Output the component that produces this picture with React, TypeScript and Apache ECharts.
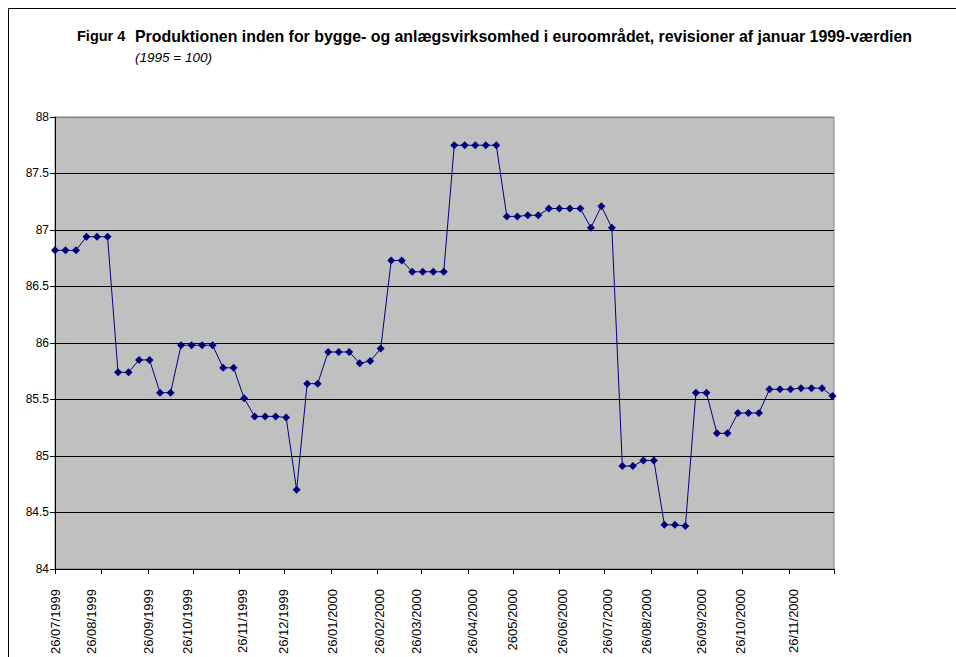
import React, { useEffect, useRef } from "react";
import * as echarts from "echarts";

const TITLE_FIG = "Figur 4";
const TITLE =
  "Produktionen inden for bygge- og anlægsvirksomhed i euroområdet, revisioner af januar 1999-værdien";
const SUBTITLE = "(1995 = 100)";

// Weekly observations starting 26/07/1999 (index value, 1995 = 100)
const values: number[] = [
  86.82, 86.82, 86.82, 86.94, 86.94, 86.94, 85.74, 85.74, 85.85, 85.85,
  85.56, 85.56, 85.98, 85.98, 85.98, 85.98, 85.78, 85.78, 85.51, 85.35,
  85.35, 85.35, 85.34, 84.7, 85.64, 85.64, 85.92, 85.92, 85.92, 85.82,
  85.84, 85.95, 86.73, 86.73, 86.63, 86.63, 86.63, 86.63, 87.75, 87.75,
  87.75, 87.75, 87.75, 87.12, 87.12, 87.13, 87.13, 87.19, 87.19, 87.19,
  87.19, 87.02, 87.21, 87.02, 84.91, 84.91, 84.96, 84.96, 84.39, 84.39,
  84.38, 85.56, 85.56, 85.2, 85.2, 85.38, 85.38, 85.38, 85.59, 85.59,
  85.59, 85.6, 85.6, 85.6, 85.53,
];
// day offset (from 26/07/1999) of each observation: one per week
const obsDays: number[] = values.map((_, i) => i * 7);

// monthly tick marks (day offsets of the 26th of each month)
const tickDays = [0, 31, 62, 92, 123, 153, 184, 215, 244, 275, 305, 336, 366, 397, 428, 458, 489, 519];
// label positions (day offsets) and texts as printed
const labelDays = [0, 24, 62, 88, 125, 152, 185, 216, 241, 278, 305, 338, 368, 394, 431, 457, 492];
const labelTexts = [
  "26/07/1999", "26/08/1999", "26/09/1999", "26/10/1999", "26/11/1999", "26/12/1999",
  "26/01/2000", "26/02/2000", "26/03/2000", "26/04/2000", "2605/2000", "26/06/2000",
  "26/07/2000", "26/08/2000", "26/09/2000", "26/10/2000", "26/11/2000",
];

const NARROW = "'Liberation Sans Narrow', 'Arial Narrow', 'Liberation Sans', Arial, sans-serif";
const REG = "'Liberation Sans', Arial, sans-serif";

export default function App() {
  const ref = useRef<HTMLDivElement>(null);
  useEffect(() => {
    if (!ref.current) return;
    const chart = echarts.init(ref.current, undefined, { renderer: "svg" });
    chart.setOption({
      animation: false,
      backgroundColor: "#ffffff",
      title: [
        {
          text: TITLE_FIG,
          left: 77,
          top: 28,
          padding: 0,
          textStyle: { fontFamily: NARROW, fontSize: 14.5, fontWeight: "bold", color: "#000" },
        },
        {
          text: TITLE,
          left: 135,
          top: 28,
          padding: 0,
          textStyle: { fontFamily: NARROW, fontSize: 15.9, fontWeight: "bold", color: "#000" },
        },
        {
          text: SUBTITLE,
          left: 135,
          top: 50,
          padding: 0,
          textStyle: { fontFamily: NARROW, fontSize: 13.5, fontWeight: "normal", fontStyle: "italic", color: "#000" },
        },
      ],
      graphic: [
        {
          type: "rect",
          shape: { x: 8.5, y: 8.5, width: 1200, height: 1200 },
          style: { fill: "none", stroke: "#000", lineWidth: 1 },
          silent: true,
        },
      ],
      grid: {
        left: 55,
        top: 117,
        width: 779,
        height: 454,
        show: true,
        backgroundColor: "#C0C0C0",
        borderColor: "#808080",
        borderWidth: 1,
      },
      xAxis: {
        type: "value",
        min: 0,
        max: 519,
        axisLine: { show: true, onZero: false, lineStyle: { color: "#000", width: 1 } },
        axisTick: { show: true, length: 5, inside: false, customValues: tickDays, lineStyle: { color: "#000" } },
        splitLine: { show: false },
        axisLabel: {
          customValues: labelDays,
          rotate: 90,
          margin: 20,
          fontFamily: REG,
          fontSize: 13,
          color: "#000",
          formatter: (v: number) => {
            let best = -1;
            let bd = 1e9;
            labelDays.forEach((d, i) => {
              const dd = Math.abs(d - v);
              if (dd < bd) {
                bd = dd;
                best = i;
              }
            });
            return bd < 0.5 ? labelTexts[best] : "";
          },
        },
      },
      yAxis: {
        type: "value",
        min: 84,
        max: 88,
        interval: 0.5,
        axisLine: { show: true, lineStyle: { color: "#000", width: 1 } },
        axisTick: { show: true, length: 5, inside: false, lineStyle: { color: "#000" } },
        splitLine: {
          show: true,
          lineStyle: {
            color: ["#000", "#000", "#000", "#000", "#000", "#000", "#000", "#000", "#808080"],
            width: 1,
          },
        },
        axisLabel: { margin: 6, fontFamily: NARROW, fontSize: 12, color: "#000" },
      },
      series: [
        {
          type: "line",
          data: values.map((v, i) => [obsDays[i], v]),
          symbol: "diamond",
          symbolSize: 8,
          showSymbol: true,
          lineStyle: { color: "#000080", width: 1 },
          itemStyle: { color: "#000080" },
          clip: false,
        },
      ],
    });
    return () => chart.dispose();
  }, []);
  return (
    <div
      ref={ref}
      style={{ position: "fixed", left: 0, top: 0, width: 956, height: 657, background: "#fff" }}
    />
  );
}
